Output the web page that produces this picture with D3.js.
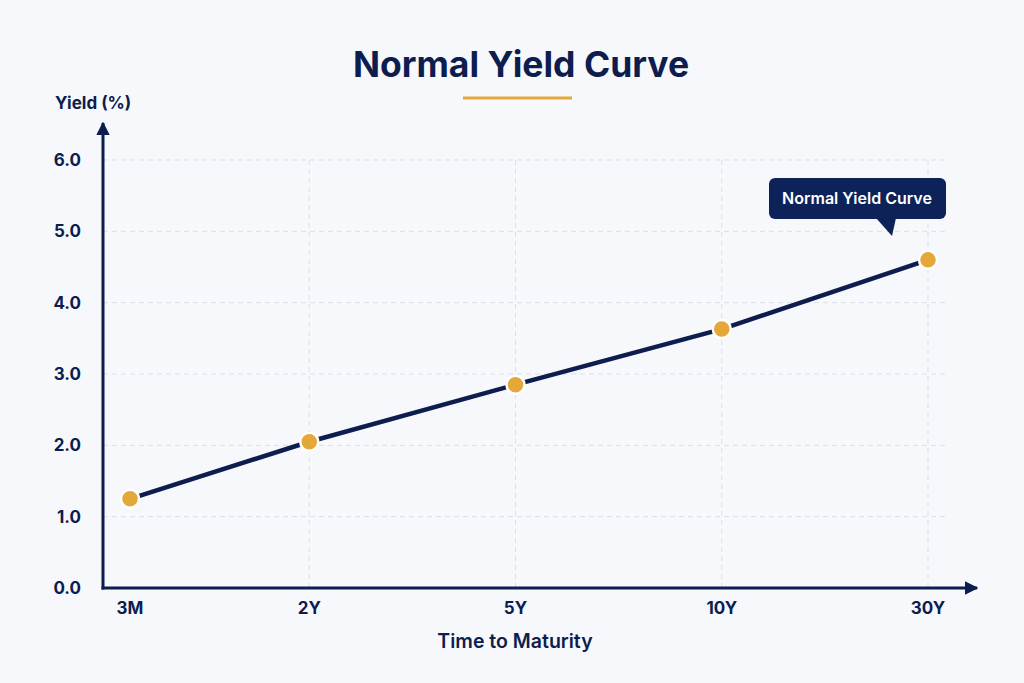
<!DOCTYPE html>
<html>
<head>
<meta charset="utf-8">
<script src="https://cdn.jsdelivr.net/npm/d3@7"></script>
<style>
  html, body { margin: 0; padding: 0; background: #f7f8fb; }
  svg { display: block; font-family: Inter, "Noto Sans", sans-serif; }
</style>
</head>
<body>
<svg id="chart" width="1024" height="683"></svg>
<script>
const maturities = ['3M', '2Y', '5Y', '10Y', '30Y'];
const yields = [1.25, 2.05, 2.85, 3.63, 4.6];
const yTicks = [0, 1, 2, 3, 4, 5, 6];

const navy = '#0c1d4e';
const gold = '#e4a73a';
const grid = '#dcdfe6';

const svg = d3.select('#chart');
const originX = 103, originY = 588;

// maturities sit on an even step from the y axis, the first one is tucked in near the origin
const xStep = d3.scaleLinear().domain([0, maturities.length - 1]).range([originX, 928]);
const x = d3.scaleOrdinal()
    .domain(maturities)
    .range(maturities.map((m, i) => i === 0 ? originX + 27 : xStep(i)));
const y = d3.scaleLinear().domain([0, 6]).range([originY, 160]);

// title
svg.append('text')
    .attr('x', 521).attr('y', 77)
    .attr('text-anchor', 'middle')
    .attr('font-size', 35.5).attr('font-weight', 700)
    .attr('fill', navy)
    .text('Normal Yield Curve');
svg.append('line')
    .attr('x1', 463).attr('x2', 572).attr('y1', 98).attr('y2', 98)
    .attr('stroke', gold).attr('stroke-width', 3);

// grid
svg.append('g').selectAll('line')
    .data(yTicks.filter(d => d > 0))
    .join('line')
    .attr('x1', originX).attr('x2', 946)
    .attr('y1', d => y(d)).attr('y2', d => y(d))
    .attr('stroke', grid).attr('stroke-dasharray', '5,4');
svg.append('g').selectAll('line')
    .data(maturities.slice(1))
    .join('line')
    .attr('x1', d => x(d)).attr('x2', d => x(d))
    .attr('y1', y(6)).attr('y2', originY)
    .attr('stroke', grid).attr('stroke-dasharray', '5,4');

// axes with arrows
const defs = svg.append('defs');
defs.append('marker')
    .attr('id', 'arrow')
    .attr('viewBox', '0 0 10 10')
    .attr('refX', 9).attr('refY', 5)
    .attr('markerWidth', 4.5).attr('markerHeight', 4.5)
    .attr('markerUnits', 'strokeWidth')
    .attr('orient', 'auto')
    .append('path').attr('d', 'M0,0L10,5L0,10Z').attr('fill', navy);

svg.append('line')
    .attr('x1', originX).attr('y1', originY + 1.5)
    .attr('x2', originX).attr('y2', 123)
    .attr('stroke', navy).attr('stroke-width', 3)
    .attr('marker-end', 'url(#arrow)');
svg.append('line')
    .attr('x1', originX - 1.5).attr('y1', originY)
    .attr('x2', 977).attr('y2', originY)
    .attr('stroke', navy).attr('stroke-width', 3)
    .attr('marker-end', 'url(#arrow)');

// tick labels
svg.append('g').selectAll('text')
    .data(yTicks)
    .join('text')
    .attr('x', 81).attr('y', d => y(d))
    .attr('dy', '0.36em')
    .attr('text-anchor', 'end')
    .attr('font-size', 17).attr('font-weight', 700)
    .attr('fill', navy)
    .text(d => d3.format('.1f')(d));
svg.append('g').selectAll('text')
    .data(maturities)
    .join('text')
    .attr('x', d => x(d)).attr('y', 614)
    .attr('text-anchor', 'middle')
    .attr('font-size', 17).attr('font-weight', 700)
    .attr('fill', navy)
    .text(d => d);

// axis titles
svg.append('text')
    .attr('x', 55).attr('y', 109)
    .attr('font-size', 17).attr('font-weight', 700)
    .attr('fill', navy)
    .text('Yield (%)');
svg.append('text')
    .attr('x', 515).attr('y', 648)
    .attr('text-anchor', 'middle')
    .attr('font-size', 19.5).attr('font-weight', 600)
    .attr('fill', navy)
    .text('Time to Maturity');

// curve
const line = d3.line()
    .x((d, i) => x(maturities[i]))
    .y(d => y(d));
svg.append('path')
    .datum(yields)
    .attr('d', line)
    .attr('fill', 'none')
    .attr('stroke', navy).attr('stroke-width', 4.5)
    .attr('stroke-linejoin', 'round');

svg.append('g').selectAll('circle')
    .data(yields)
    .join('circle')
    .attr('cx', (d, i) => x(maturities[i]))
    .attr('cy', d => y(d))
    .attr('r', 9)
    .attr('fill', gold)
    .attr('stroke', '#ffffff').attr('stroke-width', 2.5);

// callout
const callout = svg.append('g');
callout.append('rect')
    .attr('x', 769).attr('y', 178)
    .attr('width', 177).attr('height', 41)
    .attr('rx', 6)
    .attr('fill', '#0c2259');
callout.append('path')
    .attr('d', 'M876,218L892,236L896,218Z')
    .attr('fill', '#0c2259');
callout.append('text')
    .attr('x', 857).attr('y', 204)
    .attr('text-anchor', 'middle')
    .attr('font-size', 16).attr('font-weight', 600)
    .attr('fill', '#ffffff')
    .text('Normal Yield Curve');
</script>
</body>
</html>
